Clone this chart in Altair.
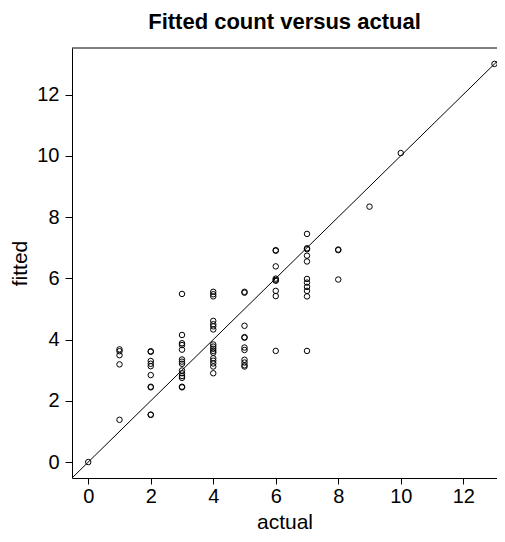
import altair as alt
import pandas as pd

# fitted values grouped by actual count
fit_a0 = [0.0]
fit_a1 = [3.68, 3.62, 3.49, 3.19, 1.38]
fit_a2 = [3.62, 3.60, 3.30, 3.21, 3.13, 2.84, 2.46, 2.44, 1.55, 1.54]
fit_a3 = [5.49, 4.15, 3.88, 3.82, 3.67, 3.35, 3.28, 3.21, 2.99, 2.90, 2.81, 2.75, 2.46, 2.44]
fit_a4 = [5.56, 5.48, 5.41, 4.61, 4.50, 4.43, 4.33, 3.84, 3.77, 3.70, 3.63, 3.57,
          3.39, 3.31, 3.22, 3.12, 2.90]
fit_a5 = [5.56, 5.53, 4.45, 4.08, 4.06, 3.74, 3.66, 3.34, 3.25, 3.16, 3.12]
fit_a6 = [6.92, 6.90, 6.39, 5.99, 5.95, 5.92, 5.59, 5.42, 3.63]
fit_a7 = [7.45, 6.98, 6.95, 6.74, 6.55, 5.98, 5.86, 5.72, 5.59, 5.41, 3.63]
fit_a8 = [6.94, 6.92, 5.96]
fit_a9 = [8.34]
fit_a10 = [10.09]
fit_a13 = [13.0]

groups = {0: fit_a0, 1: fit_a1, 2: fit_a2, 3: fit_a3, 4: fit_a4, 5: fit_a5,
          6: fit_a6, 7: fit_a7, 8: fit_a8, 9: fit_a9, 10: fit_a10, 13: fit_a13}

x_range = [-0.52, 13.08]   # right part of the original frame is cut by the page edge
y_range = [-0.52, 13.52]
diag_ends = [-0.52, 13.52]
tick_values = [0, 2, 4, 6, 8, 10, 12]

rows = [{"actual": a, "fitted": f} for a, fl in groups.items() for f in fl]
df = pd.DataFrame(rows)
line_df = pd.DataFrame({"actual": diag_ends, "fitted": diag_ends})
top_df = pd.DataFrame({"k": [0]})

FONT = "Liberation Sans"
xscale = alt.Scale(domain=x_range, nice=False, zero=False)
yscale = alt.Scale(domain=y_range, nice=False, zero=False)

xaxis = alt.Axis(values=tick_values, title="actual", titleY=50,
                 titleBaseline="alphabetic", tickSize=6, labelPadding=2)
yaxis = alt.Axis(values=tick_values, title="fitted", titleX=-52, titleY=215,
                 titleAngle=-90, titleBaseline="middle", titleAlign="center",
                 tickSize=7, labelPadding=6)

points = alt.Chart(df).mark_point(
    shape="circle", filled=False, color="black", size=30, strokeWidth=1, opacity=1
).encode(
    x=alt.X("actual:Q", scale=xscale, axis=xaxis),
    y=alt.Y("fitted:Q", scale=yscale, axis=yaxis),
)

ref = alt.Chart(line_df).mark_line(color="black", strokeWidth=1, clip=True).encode(
    x=alt.X("actual:Q", scale=xscale),
    y=alt.Y("fitted:Q", scale=yscale),
)

# top edge of the frame
top_edge = alt.Chart(top_df).mark_rule(color="black", strokeWidth=1).encode(
    y=alt.value(0)
)

chart = alt.layer(ref, points, top_edge).properties(
    width=425,
    height=430,
    autosize=alt.AutoSizeParams(type="none"),
    padding={"left": 64, "top": 40, "right": 0, "bottom": 56},
    background="white",
    title=alt.TitleParams(
        "Fitted count versus actual", fontSize=22, fontWeight="bold", font=FONT,
        anchor="middle", offset=14, color="black",
    ),
).configure_view(
    stroke=None
).configure_axis(
    domain=True, domainColor="black", domainWidth=1, grid=False, ticks=True,
    tickColor="black", tickWidth=1,
    labelFont=FONT, labelFontSize=20, labelColor="black",
    titleFont=FONT, titleFontSize=21, titleFontWeight="normal", titleColor="black",
)

chart.save("out.html", embed_options={"renderer": "svg", "actions": False})
